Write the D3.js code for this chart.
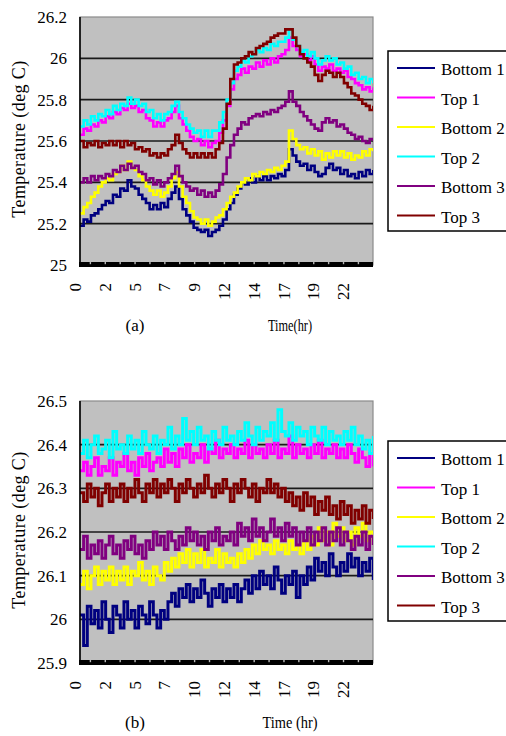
<!DOCTYPE html>
<html><head><meta charset="utf-8">
<script src="https://cdn.jsdelivr.net/npm/d3@7"></script>
<style>
body{margin:0;background:#fff}
svg{display:block}
</style>
</head><body><svg id="chart" width="506" height="736"></svg>
<script>
// ---------- data ----------
const seriesNames  = ["Bottom 1","Top 1","Bottom 2","Top 2","Bottom 3","Top 3"];
const seriesColors = ["#000080","#ff00ff","#ffff00","#00ffff","#800080","#800000"];
const sampleStartHour = 0.36;
const sampleStepHours = 0.2955;
const xLabelHours = [0,2.4,4.8,7.2,9.6,12,14.4,16.8,19.2,21.6];
const xLabelsA = ["0","2","5","7","9","12","14","17","19","22"];
const xLabelsB = ["0","2","5","7","10","12","14","17","19","22"];
const xNotchHours = [1.2,2.4,3.6,4.8,6,7.2,8.4,9.6,10.8,12,13.2,14.4,15.6,16.8,18,19.2,20.4,21.6,22.8];
const yTicksA = [25,25.2,25.4,25.6,25.8,26,26.2];
const yTicksB = [25.9,26,26.1,26.2,26.3,26.4,26.5];

// panel (a)
const aBottom1 = [25.19,25.22,25.21,25.24,25.25,25.27,25.29,25.31,25.30,25.34,25.33,25.37,25.36,25.41,25.38,25.37,25.34,25.32,25.30,25.27,25.29,25.27,25.30,25.28,25.32,25.35,25.38,25.32,25.27,25.24,25.21,25.18,25.17,25.16,25.17,25.14,25.16,25.17,25.19,25.22,25.27,25.30,25.34,25.37,25.40,25.39,25.42,25.40,25.43,25.41,25.43,25.41,25.43,25.42,25.44,25.43,25.46,25.56,25.53,25.50,25.48,25.49,25.46,25.48,25.45,25.43,25.44,25.47,25.49,25.46,25.47,25.44,25.46,25.43,25.44,25.42,25.45,25.43,25.46,25.44,25.46];
const aTop1 = [25.63,25.66,25.65,25.68,25.67,25.70,25.69,25.72,25.71,25.74,25.73,25.76,25.75,25.78,25.76,25.77,25.74,25.75,25.71,25.70,25.67,25.69,25.67,25.70,25.71,25.74,25.77,25.71,25.68,25.65,25.62,25.60,25.61,25.58,25.60,25.57,25.59,25.60,25.64,25.70,25.77,25.85,25.90,25.92,25.95,25.93,25.96,25.95,25.98,25.96,25.99,25.97,26.00,25.98,26.01,26.02,26.04,26.10,26.06,26.04,26.01,26.02,25.99,26.01,25.97,25.94,25.96,25.95,25.97,25.94,25.95,25.93,25.94,25.91,25.90,25.88,25.87,25.85,25.86,25.84,25.86];
const aBottom2 = [25.25,25.28,25.30,25.33,25.35,25.38,25.40,25.42,25.41,25.44,25.45,25.48,25.46,25.50,25.47,25.46,25.43,25.41,25.38,25.36,25.34,25.36,25.33,25.35,25.38,25.42,25.45,25.38,25.33,25.30,25.26,25.23,25.22,25.20,25.22,25.19,25.21,25.23,25.24,25.27,25.30,25.33,25.35,25.38,25.40,25.42,25.41,25.44,25.43,25.45,25.44,25.46,25.45,25.47,25.46,25.48,25.50,25.65,25.61,25.58,25.56,25.57,25.54,25.56,25.53,25.55,25.51,25.54,25.52,25.55,25.53,25.55,25.52,25.54,25.51,25.53,25.52,25.55,25.53,25.56,25.55];
const aTop2 = [25.67,25.70,25.68,25.72,25.70,25.73,25.72,25.75,25.73,25.77,25.75,25.78,25.77,25.81,25.78,25.80,25.77,25.78,25.74,25.75,25.71,25.73,25.70,25.73,25.74,25.77,25.79,25.74,25.71,25.68,25.66,25.64,25.65,25.62,25.65,25.62,25.65,25.65,25.69,25.74,25.80,25.88,25.94,25.96,25.99,25.98,26.01,26.02,26.04,26.03,26.05,26.04,26.07,26.06,26.08,26.08,26.10,26.14,26.09,26.06,26.03,26.04,26.01,26.03,26.00,25.97,25.99,26.01,25.99,26.00,25.97,25.98,25.95,25.96,25.92,25.93,25.90,25.91,25.88,25.90,25.88];
const aBottom3 = [25.40,25.42,25.40,25.43,25.41,25.43,25.42,25.44,25.43,25.46,25.45,25.48,25.46,25.49,25.47,25.48,25.45,25.44,25.41,25.42,25.39,25.41,25.38,25.40,25.42,25.44,25.48,25.43,25.40,25.38,25.36,25.37,25.34,25.36,25.33,25.35,25.33,25.36,25.39,25.44,25.52,25.58,25.63,25.66,25.69,25.68,25.71,25.72,25.73,25.72,25.74,25.73,25.75,25.74,25.76,25.77,25.79,25.84,25.79,25.77,25.74,25.72,25.70,25.68,25.66,25.65,25.69,25.71,25.69,25.70,25.67,25.68,25.66,25.64,25.63,25.61,25.62,25.60,25.59,25.61,25.60];
const aTop3 = [25.60,25.57,25.59,25.58,25.60,25.57,25.59,25.58,25.60,25.58,25.60,25.57,25.60,25.58,25.59,25.56,25.57,25.55,25.56,25.53,25.54,25.52,25.54,25.53,25.56,25.58,25.63,25.59,25.56,25.54,25.52,25.54,25.52,25.54,25.52,25.54,25.52,25.56,25.59,25.66,25.78,25.90,25.97,25.98,26.00,26.01,26.03,26.02,26.05,26.06,26.07,26.08,26.10,26.11,26.12,26.12,26.14,26.14,26.10,26.06,26.02,26.00,25.98,25.96,25.92,25.89,25.92,25.94,25.93,25.91,25.93,25.91,25.88,25.86,25.83,25.82,25.80,25.78,25.77,25.75,25.77];

// panel (b)
const bBottom1 = [26.01,25.94,26.03,25.99,26.02,25.98,26.04,26.00,25.97,26.03,26.01,25.98,26.04,26.00,26.02,25.98,26.03,26.01,25.99,26.04,26.01,25.98,26.02,26.00,26.04,26.06,26.03,26.07,26.05,26.08,26.04,26.07,26.05,26.09,26.06,26.03,26.07,26.05,26.08,26.04,26.07,26.05,26.08,26.04,26.07,26.09,26.06,26.10,26.07,26.11,26.08,26.10,26.07,26.12,26.09,26.06,26.10,26.08,26.11,26.05,26.10,26.08,26.12,26.09,26.14,26.11,26.13,26.10,26.15,26.12,26.10,26.13,26.11,26.15,26.12,26.14,26.10,26.13,26.11,26.14,26.09];
const bTop1 = [26.34,26.36,26.33,26.35,26.37,26.33,26.35,26.34,26.37,26.33,26.36,26.35,26.38,26.34,26.36,26.33,26.37,26.35,26.38,26.34,26.36,26.37,26.35,26.39,26.36,26.38,26.35,26.39,26.37,26.40,26.36,26.38,26.37,26.40,26.36,26.39,26.38,26.41,26.37,26.39,26.38,26.40,26.37,26.39,26.38,26.41,26.37,26.40,26.38,26.39,26.37,26.40,26.38,26.41,26.37,26.39,26.38,26.42,26.37,26.40,26.38,26.39,26.37,26.40,26.38,26.41,26.37,26.39,26.38,26.40,26.37,26.39,26.37,26.40,26.38,26.36,26.39,26.37,26.35,26.38,26.35];
const bBottom2 = [26.08,26.11,26.07,26.10,26.12,26.08,26.11,26.09,26.12,26.08,26.11,26.09,26.12,26.08,26.11,26.10,26.13,26.09,26.11,26.08,26.12,26.10,26.09,26.13,26.11,26.14,26.12,26.15,26.13,26.16,26.12,26.15,26.13,26.16,26.12,26.14,26.13,26.16,26.12,26.15,26.13,26.14,26.12,26.15,26.13,26.16,26.14,26.17,26.15,26.18,26.16,26.17,26.15,26.18,26.16,26.17,26.15,26.18,26.16,26.17,26.15,26.18,26.16,26.19,26.17,26.21,26.18,26.20,26.17,26.22,26.19,26.21,26.18,26.20,26.17,26.21,26.19,26.22,26.18,26.20,26.17];
const bTop2 = [26.38,26.41,26.37,26.40,26.42,26.38,26.39,26.41,26.37,26.43,26.39,26.40,26.38,26.42,26.39,26.41,26.38,26.43,26.40,26.39,26.42,26.38,26.41,26.40,26.44,26.39,26.42,26.40,26.46,26.41,26.43,26.40,26.44,26.41,26.42,26.39,26.43,26.41,26.40,26.44,26.41,26.42,26.40,26.43,26.41,26.45,26.42,26.40,26.44,26.41,26.43,26.42,26.45,26.41,26.48,26.43,26.42,26.45,26.41,26.44,26.42,26.43,26.40,26.44,26.42,26.41,26.44,26.40,26.43,26.41,26.42,26.40,26.43,26.41,26.44,26.40,26.42,26.39,26.41,26.38,26.42];
const bBottom3 = [26.16,26.19,26.14,26.17,26.15,26.18,26.14,26.17,26.19,26.15,26.17,26.14,26.18,26.16,26.19,26.15,26.17,26.14,26.18,26.16,26.20,26.17,26.19,26.16,26.20,26.18,26.16,26.19,26.17,26.21,26.18,26.20,26.17,26.19,26.16,26.20,26.18,26.21,26.17,26.19,26.18,26.20,26.17,26.22,26.19,26.21,26.18,26.23,26.19,26.21,26.18,26.20,26.23,26.19,26.21,26.18,26.22,26.19,26.21,26.17,26.20,26.18,26.21,26.17,26.20,26.18,26.21,26.17,26.20,26.18,26.21,26.17,26.20,26.18,26.16,26.19,26.17,26.20,26.16,26.19,26.17];
const bTop3 = [26.29,26.27,26.31,26.28,26.30,26.26,26.29,26.31,26.27,26.30,26.28,26.31,26.27,26.30,26.28,26.32,26.29,26.27,26.31,26.29,26.32,26.28,26.31,26.29,26.32,26.30,26.27,26.31,26.29,26.32,26.30,26.28,26.31,26.29,26.33,26.30,26.28,26.31,26.29,26.32,26.30,26.27,26.31,26.29,26.32,26.30,26.28,26.31,26.27,26.30,26.29,26.32,26.29,26.31,26.28,26.30,26.27,26.29,26.26,26.28,26.25,26.29,26.26,26.28,26.24,26.27,26.25,26.28,26.24,26.26,26.23,26.27,26.24,26.26,26.22,26.25,26.23,26.26,26.22,26.25,26.23];

const seriesA = [aBottom1,aTop1,aBottom2,aTop2,aBottom3,aTop3];
const seriesB = [bBottom1,bTop1,bBottom2,bTop2,bBottom3,bTop3];

// ---------- layout ----------
const FONT = "'Liberation Serif','Times New Roman','DejaVu Serif',serif";
const panels = [
  {id:"a", top:17, bottom:265, yDomain:[25,26.2], yTicks:yTicksA, xLabels:xLabelsA, series:seriesA,
   legendTop:51, legendH:180, caption:"(a)", captionY:331, timeText:"Time(hr)", timeW:44, lineW:2.6},
  {id:"b", top:401, bottom:663, yDomain:[25.9,26.5], yTicks:yTicksB, xLabels:xLabelsB, series:seriesB,
   legendTop:441, legendH:180, caption:"(b)", captionY:728, timeText:"Time (hr)", timeW:55, lineW:3}
];
const plotLeft = 80, plotRight = 373;

const svg = d3.select("#chart").attr("font-family", FONT);
const x = d3.scaleLinear().domain([0,24]).range([75.5,373.3]);

panels.forEach(p => {
  const g = svg.append("g");
  const y = d3.scaleLinear().domain(p.yDomain).range([p.bottom, p.top]);
  const clipId = "clip-" + p.id;
  svg.append("clipPath").attr("id", clipId).append("rect")
    .attr("x", plotLeft).attr("y", p.top).attr("width", plotRight - plotLeft).attr("height", p.bottom - p.top);

  g.append("rect").attr("x", plotLeft).attr("y", p.top)
    .attr("width", plotRight - plotLeft).attr("height", p.bottom - p.top)
    .attr("fill", "#c0c0c0").attr("stroke", "#8a8a8a").attr("stroke-width", 1.2);

  g.append("g").selectAll("line").data(p.yTicks.slice(1, -1)).join("line")
    .attr("x1", plotLeft).attr("x2", plotRight)
    .attr("y1", d => y(d)).attr("y2", d => y(d))
    .attr("stroke", "#1a1a1a").attr("stroke-width", 1.6);

  const line = d3.line()
    .x((d, i) => x(sampleStartHour + i * sampleStepHours))
    .y(d => y(d))
    .curve(d3.curveStepAfter);
  const sg = g.append("g").attr("clip-path", `url(#${clipId})`);
  p.series.forEach((vals, k) => {
    sg.append("path").attr("d", line(vals)).attr("fill", "none")
      .attr("stroke", seriesColors[k]).attr("stroke-width", p.lineW)
      .attr("stroke-linejoin", "miter");
  });

  g.append("line").attr("x1", plotLeft).attr("x2", plotLeft)
    .attr("y1", p.top).attr("y2", p.bottom)
    .attr("stroke", "#000").attr("stroke-width", 1.6);

  g.append("rect").attr("x", plotLeft - 1).attr("y", p.bottom - 3)
    .attr("width", plotRight - plotLeft + 1).attr("height", 5).attr("fill", "#000");
  g.append("g").selectAll("rect").data(xNotchHours).join("rect")
    .attr("x", d => x(d) - 0.7).attr("y", p.bottom - 3)
    .attr("width", 1.4).attr("height", 2.2).attr("fill", "#b8b8b8");

  g.append("g").selectAll("text").data(p.yTicks).join("text")
    .attr("x", 67).attr("y", d => y(d)).attr("dy", "0.35em")
    .attr("text-anchor", "end").attr("font-size", 17).attr("font-family", FONT)
    .text(d => String(d));

  g.append("g").selectAll("text").data(xLabelHours).join("text")
    .attr("transform", d => `translate(${x(d)},${p.bottom + 18}) rotate(-90)`)
    .attr("dy", "0.33em").attr("text-anchor", "end").attr("font-size", 17).attr("font-family", FONT)
    .text((d, i) => p.xLabels[i]);

  g.append("text")
    .attr("transform", `translate(25,${(p.top + p.bottom) / 2 - 2}) rotate(-90)`)
    .attr("text-anchor", "middle").attr("font-size", 18).attr("font-family", FONT)
    .attr("letter-spacing", "0.4px")
    .text("Temperature (deg C)");

  g.append("text").attr("x", 135).attr("y", p.captionY).attr("font-family", FONT)
    .attr("text-anchor", "middle").attr("font-size", 17).text(p.caption);
  g.append("text").attr("x", 290).attr("y", p.captionY).attr("font-family", FONT)
    .attr("text-anchor", "middle").attr("font-size", 16)
    .attr("textLength", p.timeW).attr("lengthAdjust", "spacingAndGlyphs")
    .text(p.timeText);

  const lg = g.append("g");
  lg.append("rect").attr("x", 388).attr("y", p.legendTop)
    .attr("width", 140).attr("height", p.legendH)
    .attr("fill", "#fff").attr("stroke", "#000").attr("stroke-width", 1.5);
  seriesNames.forEach((name, k) => {
    const ly = p.legendTop + 17 + k * 29.5;
    lg.append("line").attr("x1", 397).attr("x2", 435).attr("y1", ly).attr("y2", ly)
      .attr("stroke", seriesColors[k]).attr("stroke-width", 2);
    lg.append("text").attr("x", 441).attr("y", ly + 7).attr("font-size", 17)
      .attr("font-family", FONT).text(name);
  });
});
</script>
</body></html>
